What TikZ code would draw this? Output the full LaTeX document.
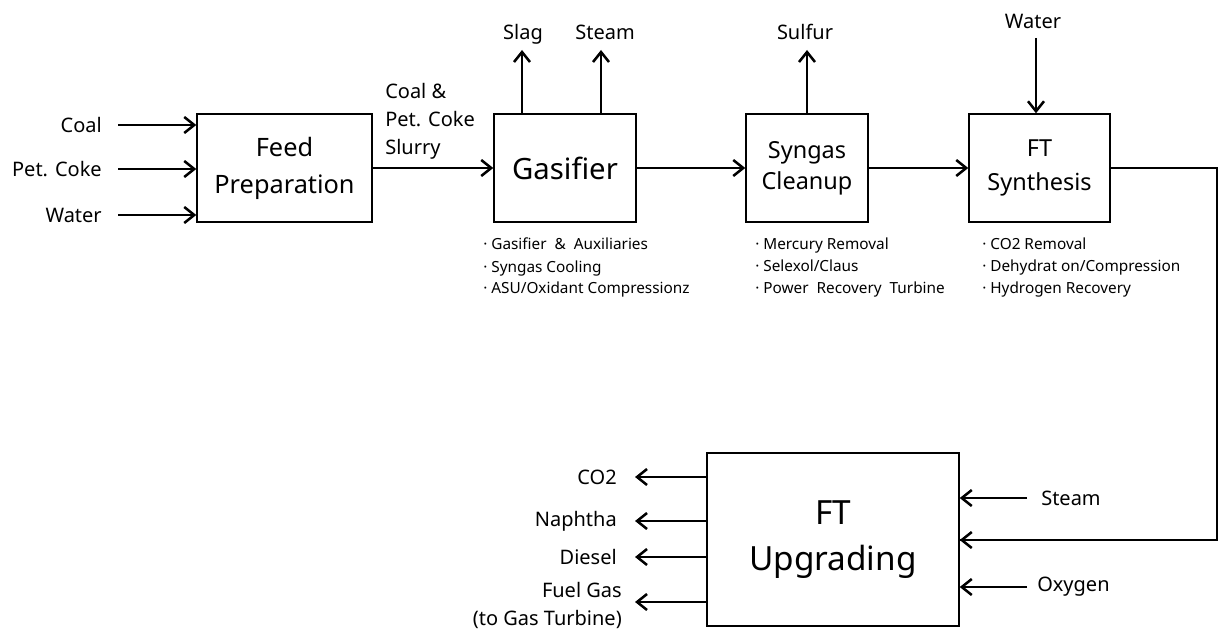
\documentclass[tikz,border=0pt]{standalone}
\usepackage{fontspec}
\setmainfont{Noto Sans}
\usetikzlibrary{arrows.meta}
\begin{document}
\begin{tikzpicture}[x=0.75pt,y=-0.75pt,
  box/.style={draw, line width=1.1pt, inner sep=0pt, align=center},
  arr/.style={line width=1.9pt, -{Straight Barb[length=7.5pt,width=12pt,line width=1.9pt]}},
  lnk/.style={line width=1.9pt},
  lbl/.style={inner sep=0pt, font=\fontsize{15}{21}\selectfont},
  lblL/.style={lbl, anchor=east, inner xsep=13.5pt},
  bul/.style={inner sep=0pt, anchor=north west, align=left, font=\fontsize{11.5}{16.5}\selectfont}
]
\useasboundingbox (0,0) rectangle (1219,631);

% main boxes
\node[box, minimum width=131.25pt, minimum height=81pt, font=\fontsize{19}{27.75}\selectfont] (feed) at (284.5,168) {Feed\\Preparation};
\node[box, minimum width=106.5pt, minimum height=81pt, font=\fontsize{22}{28}\selectfont] (gas) at (565,168) {Gasifier};
\node[box, minimum width=91.5pt, minimum height=81pt, font=\fontsize{17.6}{23.5}\selectfont] (syn) at (807,168) {Syngas\\Cleanup};
\node[box, minimum width=105.75pt, minimum height=81pt, font=\fontsize{17.6}{25.5}\selectfont] (ft) at (1039.5,168) {FT\\Synthesis};
\node[box, minimum width=189pt, minimum height=129.75pt, font=\fontsize{25}{34.5}\selectfont] (upg) at (833,539.5) {FT\\Upgrading};

% inputs to feed preparation
\node[lbl, anchor=east, inner xsep=12pt] (coal) at (118,125) {Coal};
\node[lbl, anchor=east, inner xsep=12pt] (coke) at (118,169) {Pet. Coke};
\node[lbl, anchor=east, inner xsep=12pt] (wat1) at (118,215) {Water};
\draw[arr] (coal.east) -- (coal.east -| feed.west);
\draw[arr] (coke.east) -- (coke.east -| feed.west);
\draw[arr] (wat1.east) -- (wat1.east -| feed.west);

% main chain
\node[lbl, anchor=west, align=left] (slurry) at (385,121) {Coal \&\\Pet. Coke\\Slurry};
\draw[arr] (feed.east) -- (gas.west);
\draw[arr] (gas.east) -- (syn.west);
\draw[arr] (syn.east) -- (ft.west);

% top outputs / inputs
\node[lbl, anchor=base] (slag) at (523,40) {Slag};
\node[lbl, anchor=base] (stm1) at (605,40) {Steam};
\node[lbl, anchor=base] (sulf) at (805,40) {Sulfur};
\node[lbl, anchor=base] (wat2) at (1033,29) {Water};
\coordinate (slagT) at (522,50);
\coordinate (stmT) at (601,50);
\coordinate (sulfT) at (807,50);
\coordinate (watT) at (1036,38);
\draw[arr] (slagT |- gas.north) -- (slagT);
\draw[arr] (stmT |- gas.north) -- (stmT);
\draw[arr] (sulfT |- syn.north) -- (sulfT);
\draw[arr] (watT) -- (watT |- ft.north);

% bullet notes
\node[bul] (gnote) at (483,238) {· Gasifier \ \& \ Auxiliaries\\· Syngas Cooling\\· ASU/Oxidant Compressionz};
\node[bul] (snote) at (755,238) {· Mercury Removal\\· Selexol/Claus\\· Power \ Recovery \ Turbine};
\node[bul] (fnote) at (982,238) {· CO2 Removal\\· Dehydrat on/Compression\\· Hydrogen Recovery};

% FT synthesis to upgrading
\coordinate (c1) at (1217,168);
\coordinate (c2) at (1217,540);
\draw[lnk, line join=miter] (ft.east) -- (c1) -- (c2) -- (c2 -| upg.east);
\draw[arr] (c2) -- (c2 -| upg.east);

% right inputs to upgrading
\node[lbl, anchor=west, inner xsep=10.5pt] (stm2) at (1027,498) {Steam};
\node[lbl, anchor=west, inner xsep=7.5pt] (oxy) at (1027,587) {Oxygen};
\draw[arr] (stm2.west) -- (stm2.west -| upg.east);
\draw[arr] (oxy.west) -- (oxy.west -| upg.east);

% left products
\node[lblL] (co2) at (635,477) {CO2};
\node[lblL] (nap) at (635,521) {Naphtha};
\node[lblL] (dsl) at (635,557) {Diesel};
\node[lbl, anchor=east, align=right] (fuel) at (622,605) {Fuel Gas\\(to Gas Turbine)};
\coordinate (fuelT) at (635,602);
\draw[arr] (co2.east -| upg.west) -- (co2.east);
\draw[arr] (nap.east -| upg.west) -- (nap.east);
\draw[arr] (dsl.east -| upg.west) -- (dsl.east);
\draw[arr] (fuelT -| upg.west) -- (fuelT);
\end{tikzpicture}
\end{document}
